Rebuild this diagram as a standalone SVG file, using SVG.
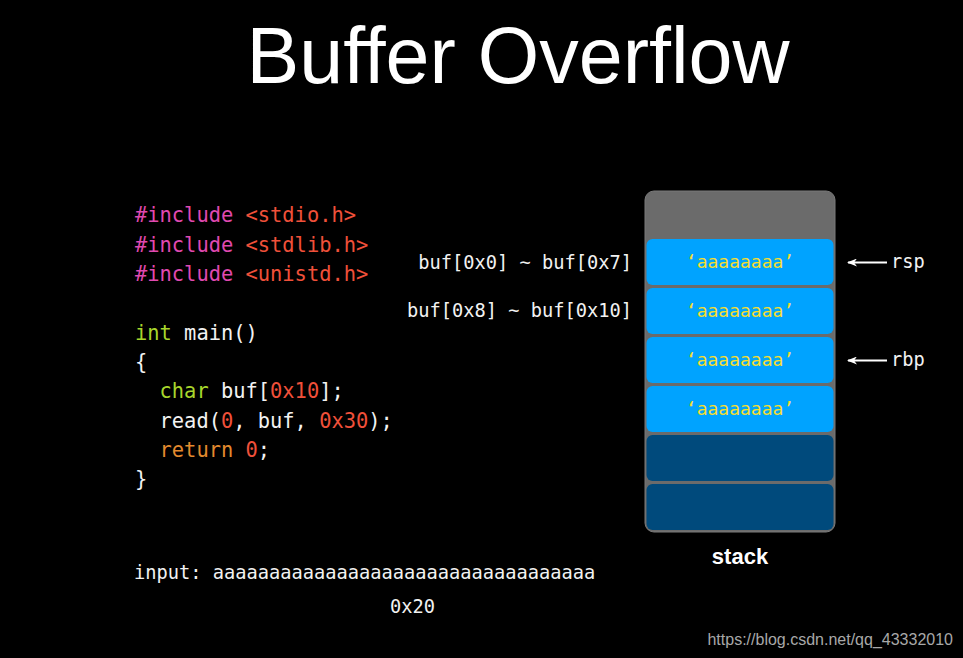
<svg xmlns="http://www.w3.org/2000/svg" width="963" height="658" viewBox="0 0 963 658">
<style>
.code{font-family:"DejaVu Sans Mono","Liberation Mono",monospace;font-size:20.4px;fill:#f2f2f2;white-space:pre}
.mono{font-family:"DejaVu Sans Mono","Liberation Mono",monospace;font-size:18.7px;fill:#f2f2f2;white-space:pre}
.kw{fill:#e049b0}.hd{fill:#f0503a}.ty{fill:#a8d62c}.rt{fill:#e38a2e}.nm{fill:#f0503a}
.cell{fill:#00a3ff}
.dark{fill:#004a7c}
.val{font-family:"DejaVu Sans Mono","Liberation Mono",monospace;font-size:18px;fill:#f5dd30;text-anchor:middle}
</style>
<defs>
<marker id="ah" markerWidth="10" markerHeight="8" refX="9" refY="4" orient="auto" markerUnits="userSpaceOnUse">
<path d="M0,0 L10,4 L0,8 L3,4 Z" fill="#ffffff"/>
</marker>
</defs>
<rect width="963" height="658" fill="#000000"/>
<text x="518" y="83" font-family="Liberation Sans, Arial, sans-serif" font-size="79" fill="#ffffff" text-anchor="middle">Buffer Overflow</text>

<g id="code">
<text class="code" x="135" y="222"><tspan class="kw">#include</tspan> <tspan class="hd">&lt;stdio.h&gt;</tspan></text>
<text class="code" x="135" y="252"><tspan class="kw">#include</tspan> <tspan class="hd">&lt;stdlib.h&gt;</tspan></text>
<text class="code" x="135" y="281"><tspan class="kw">#include</tspan> <tspan class="hd">&lt;unistd.h&gt;</tspan></text>
<text class="code" x="135" y="340"><tspan class="ty">int</tspan> main()</text>
<text class="code" x="135" y="369">{</text>
<text class="code" x="135" y="398">  <tspan class="ty">char</tspan> buf[<tspan class="nm">0x10</tspan>];</text>
<text class="code" x="135" y="428">  read(<tspan class="nm">0</tspan>, buf, <tspan class="nm">0x30</tspan>);</text>
<text class="code" x="135" y="457">  <tspan class="rt">return</tspan> <tspan class="nm">0</tspan>;</text>
<text class="code" x="135" y="486">}</text>
</g>

<g id="labels">
<text class="mono" x="632" y="269" text-anchor="end">buf[0x0] ~ buf[0x7]</text>
<text class="mono" x="632" y="317" text-anchor="end">buf[0x8] ~ buf[0x10]</text>
</g>

<g id="stack">
<rect x="645" y="191" width="190" height="341" rx="9" fill="#6b6b6b" stroke="#7a7a7a" stroke-width="1"/>
<g id="cell1"><rect class="cell" x="646.5" y="239" width="187" height="46" rx="6"/><text class="val" x="740" y="268">‘aaaaaaaa’</text></g>
<g id="cell2"><rect class="cell" x="646.5" y="288" width="187" height="46" rx="6"/><text class="val" x="740" y="317">‘aaaaaaaa’</text></g>
<g id="cell3"><rect class="cell" x="646.5" y="337" width="187" height="46" rx="6"/><text class="val" x="740" y="366">‘aaaaaaaa’</text></g>
<g id="cell4"><rect class="cell" x="646.5" y="386" width="187" height="46" rx="6"/><text class="val" x="740" y="415">‘aaaaaaaa’</text></g>
<g id="cell5"><rect class="dark" x="646.5" y="435" width="187" height="46" rx="6"/></g>
<g id="cell6"><rect class="dark" x="646.5" y="484" width="187" height="46" rx="6"/></g>
<text x="740" y="564" font-family="Liberation Sans, Arial, sans-serif" font-weight="bold" font-size="22" fill="#ffffff" text-anchor="middle">stack</text>
</g>

<g id="connectors">
<line x1="887" y1="262.5" x2="848" y2="262.5" stroke="#ffffff" stroke-width="2" marker-end="url(#ah)"/>
<line x1="887" y1="360.5" x2="848" y2="360.5" stroke="#ffffff" stroke-width="2" marker-end="url(#ah)"/>
</g>
<g id="regs">
<text class="mono" x="891" y="268">rsp</text>
<text class="mono" x="891" y="366">rbp</text>
</g>

<g id="input">
<text class="mono" x="134" y="579">input: aaaaaaaaaaaaaaaaaaaaaaaaaaaaaaaaaa</text>
<text class="mono" x="390" y="613">0x20</text>
</g>

<text x="953" y="645" font-family="Liberation Sans, Arial, sans-serif" font-size="16" fill="#a8a8a8" text-anchor="end">https://blog.csdn.net/qq_43332010</text>
</svg>
